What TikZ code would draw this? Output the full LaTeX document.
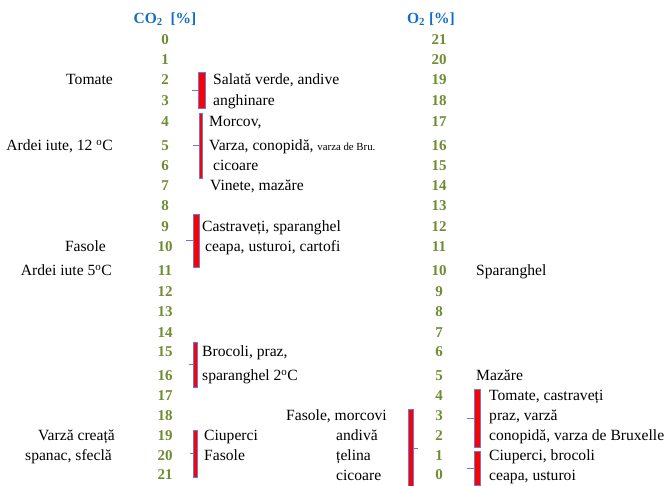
\documentclass[tikz,border=0pt]{standalone}
\usepackage{fontspec}
\setmainfont{Liberation Serif}
\definecolor{hdrblue}{RGB}{20,110,200}
\definecolor{numgreen}{RGB}{112,140,50}
\definecolor{barred}{RGB}{255,0,0}
\definecolor{edgeblue}{RGB}{110,120,215}
\begin{document}
\begin{tikzpicture}[x=1pt,y=-1pt,font=\fontsize{15.6}{17}\selectfont,
	lbl/.style={inner sep=0pt,text height=0.66em,text depth=0pt},
	num/.style={lbl,font=\fontsize{15}{17}\selectfont\bfseries,text=numgreen},
	hdr/.style={lbl,font=\fontsize{15.5}{17}\selectfont\bfseries,text=hdrblue},
	bar/.style={draw=edgeblue,fill=barred,line width=0.4pt,inner sep=0pt},
	tick/.style={draw=edgeblue,line width=0.6pt}]
	\useasboundingbox (0,0) rectangle (668,486);
	% axes
	\node[hdr] (co2) at (165,20) {CO\textsubscript{2}\ \ [\%]};
	\node[hdr] (o2) at (431,20) {O\textsubscript{2} [\%]};
	\foreach \v/\y in {0/41,1/61,2/81,3/102,4/123,5/147,6/167,7/187,8/207,9/228,10/248,
		11/272,12/293,13/313,14/334,15/353,16/377,17/397,18/417,19/437,20/457,21/476}{
		\pgfmathtruncatemacro{\w}{21-\v}
		\node[num] (c\v) at (165,\y) {\v};
		\node[num] (o\w) at (439,\y) {\w};
	}
	% left labels
	\node[lbl,anchor=east] (tom) at (113,81) {Tomate};
	\node[lbl,anchor=east] (ard12) at (113,147) {Ardei iute, 12 \textsuperscript{o}C};
	\node[lbl,anchor=east] (fas) at (106,248) {Fasole};
	\node[lbl,anchor=east] (ard5) at (112,272) {Ardei iute 5\textsuperscript{o}C};
	\node[lbl,anchor=east] (varc) at (115,437) {Varză creață};
	\node[lbl,anchor=east] (span) at (112,457) {spanac, sfeclă};
	% middle labels
	\node[lbl,anchor=west] (sal) at (213,81) {Salată verde, andive};
	\node[lbl,anchor=west] (ang) at (213,102) {anghinare};
	\node[lbl,anchor=west] (mor) at (209,123) {Morcov,};
	\node[lbl,anchor=west] (var) at (209,147) {Varza, conopidă, {\fontsize{10.8}{12}\selectfont varza de Bru.}};
	\node[lbl,anchor=west] (cic) at (213,167) {cicoare};
	\node[lbl,anchor=west] (vin) at (210,187) {Vinete, mazăre};
	\node[lbl,anchor=west] (cas) at (202,228) {Castraveți, sparanghel};
	\node[lbl,anchor=west] (cea) at (205,248) {ceapa, usturoi, cartofi};
	\node[lbl,anchor=west] (bro) at (202,353) {Brocoli, praz,};
	\node[lbl,anchor=west] (spa2) at (202,377) {sparanghel 2\textsuperscript{o}C};
	\node[lbl,anchor=west] (ciu) at (204,437) {Ciuperci};
	\node[lbl,anchor=west] (fas2) at (204,457) {Fasole};
	\node[lbl,anchor=west] (fmor) at (286,417) {Fasole, morcovi};
	\node[lbl,anchor=west] (and) at (336,437) {andivă};
	\node[lbl,anchor=west] (tel) at (336,457) {țelina};
	\node[lbl,anchor=west] (cic2) at (336,477) {cicoare};
	% right labels
	\node[lbl,anchor=west] (spar) at (476,272) {Sparanghel};
	\node[lbl,anchor=west] (maz) at (476,377) {Mazăre};
	\node[lbl,anchor=west] (tcas) at (489,397) {Tomate, castraveți};
	\node[lbl,anchor=west] (praz) at (489,417) {praz, varză};
	\node[lbl,anchor=west] (conv) at (489,437) {conopidă, varza de Bruxelle};
	\node[lbl,anchor=west] (cbro) at (489,457) {Ciuperci, brocoli};
	\node[lbl,anchor=west] (ceus) at (489,477) {ceapa, usturoi};
	% brackets
	\node[bar,minimum width=7pt,minimum height=36pt] (b1) at (201.5,90) {};
	\node[bar,minimum width=3pt,minimum height=65pt] (b2) at (200.7,145.5) {};
	\node[bar,minimum width=6pt,minimum height=53pt] (b3) at (196,240.5) {};
	\node[bar,minimum width=4pt,minimum height=45pt] (b4) at (195,364.5) {};
	\node[bar,minimum width=4pt,minimum height=47pt] (b5) at (195,453.5) {};
	\node[bar,minimum width=5pt,minimum height=78pt] (b6) at (410.5,448) {};
	\node[bar,minimum width=6pt,minimum height=58pt] (b7) at (477,418) {};
	\node[bar,minimum width=6pt,minimum height=34pt] (b8) at (477,468) {};
	\draw[tick] (b1.west) -- ([xshift=-6pt]b1.west);
	\draw[tick] (b2.west) -- ([xshift=-6pt]b2.west);
	\draw[tick] (b3.west) -- ([xshift=-7pt]b3.west);
	\draw[tick] (b4.west) -- ([xshift=-4pt]b4.west);
	\draw[tick] (b5.west) -- ([xshift=-3pt]b5.west);
	\draw[tick] (b6.east) -- ([xshift=5pt]b6.east);
	\draw[tick] (b7.west) -- ([xshift=-7pt]b7.west);
	\draw[tick] (b8.west) -- ([xshift=-7pt]b8.west);
\end{tikzpicture}
\end{document}
